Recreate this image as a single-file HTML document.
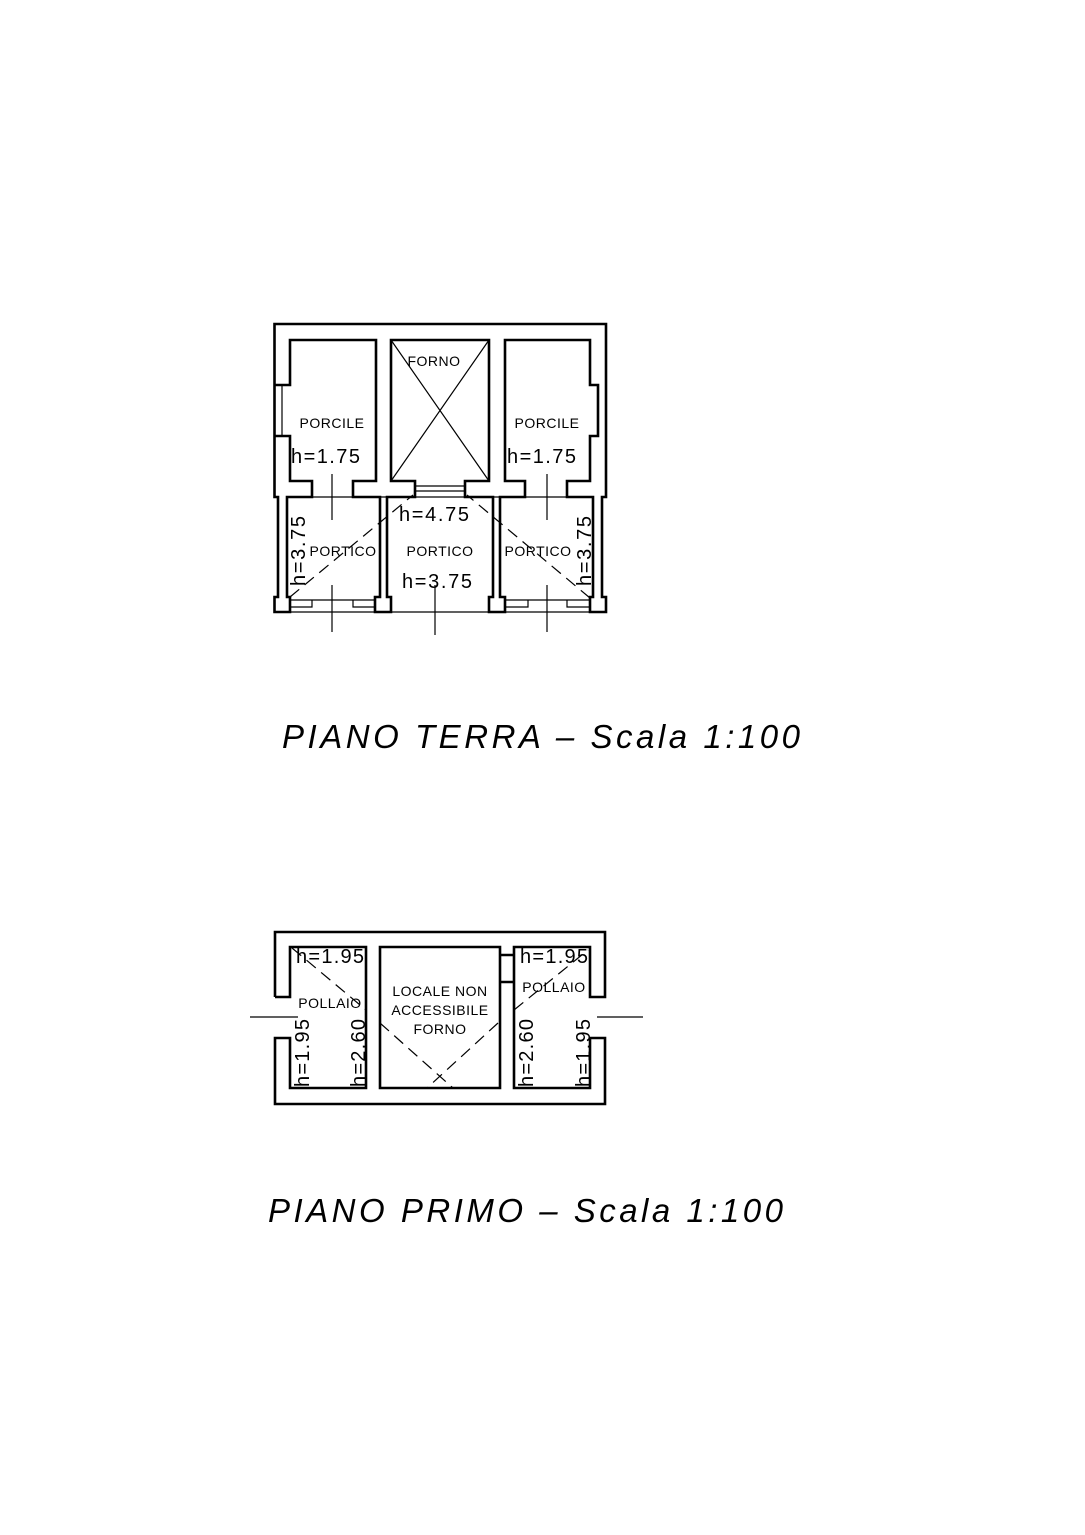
<!DOCTYPE html>
<html><head><style>
html,body{margin:0;padding:0;background:#fff}
svg{display:block}
text{font-family:"Liberation Sans",sans-serif;fill:#000}
</style></head><body>
<svg width="1085" height="1535" viewBox="0 0 1085 1535" xmlns="http://www.w3.org/2000/svg">
<g fill="none" stroke="#000" stroke-width="2.6" stroke-linejoin="miter">
<path d="M275,385 H290 V340 H376 V481 H353 V497 H380 V597 H375 V612 H391 V597 H387 V497 H415 V481 H391 V340 H489 V481 H465 V497 H493 V597 H489 V612 H505 V597 H500 V497 H525 V481 H505 V340 H590 V385 H598 V436 H590 V481 H567 V497 H593 V597 H590 V612 H606 V597 H602 V497 H606 V324 H274.5 V497 H278 V597 H274.5 V612 H290 V597 H287 V497 H312 V481 H290 V436 H275"/>
</g>
<g fill="none" stroke="#000" stroke-width="1.2">
<path d="M391,340 L489,481 M489,340 L391,481"/>
<path d="M415,486 H465 M415,491 H465"/>
<path d="M282,385 V436"/>
<path d="M290,612 H375 M391,612 H489 M505,612 H590"/>
<path d="M290,600 H375 M505,600 H590"/>
<path d="M290,607 H312 V600 M353,600 V607 H375 M505,607 H528 V600 M567,600 V607 H590"/>
<path d="M332,474 V520 M332,585 V632 M547,474 V520 M547,585 V632 M435,585 V635"/>
<path d="M287,497 H593"/>
<path d="M290,597 L413,495 M590,598 L467,495" stroke-dasharray="12,7"/>
</g>
<g font-size="14" letter-spacing="0.5">
<text x="434" y="366" text-anchor="middle">FORNO</text>
<text x="332" y="428" text-anchor="middle">PORCILE</text>
<text x="547" y="428" text-anchor="middle">PORCILE</text>
<text x="440" y="556" text-anchor="middle">PORTICO</text>
<text x="343" y="556" text-anchor="middle">PORTICO</text>
<text x="538" y="556" text-anchor="middle">PORTICO</text>
</g>
<g font-size="20">
<text x="291" y="463" textLength="69" lengthAdjust="spacing">h=1.75</text>
<text x="507" y="463" textLength="69" lengthAdjust="spacing">h=1.75</text>
<text x="399" y="521" textLength="70" lengthAdjust="spacing">h=4.75</text>
<text x="402" y="588" textLength="70" lengthAdjust="spacing">h=3.75</text>
<text transform="translate(305,586) rotate(-90)" textLength="70" lengthAdjust="spacing">h=3.75</text>
<text transform="translate(591,586) rotate(-90)" textLength="70" lengthAdjust="spacing">h=3.75</text>
</g>
<text x="282" y="748" font-size="33" font-style="italic" textLength="518" lengthAdjust="spacing">PIANO  TERRA  –  Scala  1:100</text>

<g fill="none" stroke="#000" stroke-width="2.6">
<path d="M275,997 V932 H605 V997 H590 V947 H514 V1088 H590 V1038 H605 V1104 H275 V1038 H290 V1088 H366 V947 H290 V997 H275"/>
<path d="M380,947 H500 V1088 H380 Z"/>
<path d="M500,955 H514 M500,982 H514"/>
</g>
<g fill="none" stroke="#000" stroke-width="1.2">
<path d="M500,955 V982 M514,955 V982"/>
<path d="M250,1017 H298 M597,1017 H643"/>
<path d="M292,948 L366,1010 M514,1010 L588,950 M380,1023 L453,1088 M498,1023 L427,1088" stroke-dasharray="12,7"/>
</g>
<g font-size="14" letter-spacing="0.5">
<text x="330" y="1008" text-anchor="middle">POLLAIO</text>
<text x="554" y="992" text-anchor="middle">POLLAIO</text>
<text x="440" y="996" text-anchor="middle">LOCALE NON</text>
<text x="440" y="1015" text-anchor="middle">ACCESSIBILE</text>
<text x="440" y="1034" text-anchor="middle">FORNO</text>
</g>
<g font-size="20">
<text x="296" y="963" textLength="68" lengthAdjust="spacing">h=1.95</text>
<text x="520" y="963" textLength="68" lengthAdjust="spacing">h=1.95</text>
<text transform="translate(309,1087) rotate(-90)" textLength="68" lengthAdjust="spacing">h=1.95</text>
<text transform="translate(365,1087) rotate(-90)" textLength="68" lengthAdjust="spacing">h=2.60</text>
<text transform="translate(533,1087) rotate(-90)" textLength="68" lengthAdjust="spacing">h=2.60</text>
<text transform="translate(590,1087) rotate(-90)" textLength="68" lengthAdjust="spacing">h=1.95</text>
</g>
<text x="268" y="1222" font-size="33" font-style="italic" textLength="515" lengthAdjust="spacing">PIANO  PRIMO  –  Scala  1:100</text>
</svg>
</body></html>
